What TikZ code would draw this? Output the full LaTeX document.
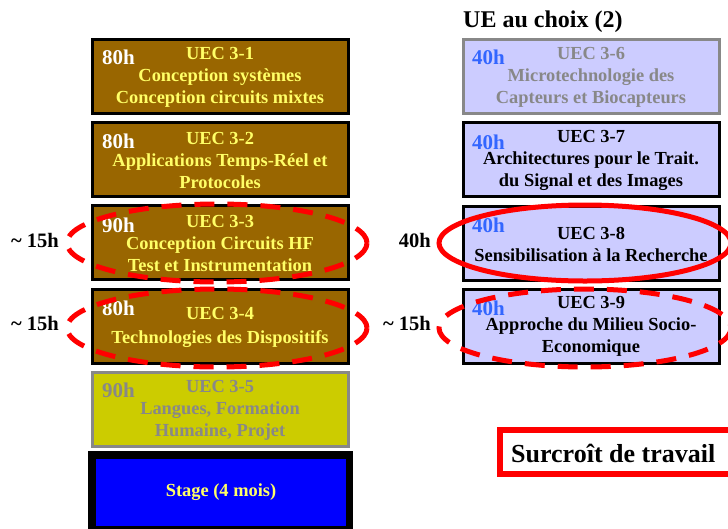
\documentclass[tikz,border=0pt]{standalone}
\usepackage{fontspec}
\setmainfont{Liberation Serif}
\definecolor{brownbox}{HTML}{996600}
\definecolor{ytext}{HTML}{FFFF66}
\definecolor{olivebox}{HTML}{CCCC00}
\definecolor{graytext}{HTML}{888888}
\definecolor{lavbox}{HTML}{CCCCFF}
\definecolor{bluetext}{HTML}{3366FF}
\definecolor{stageblue}{HTML}{0000FF}
\definecolor{redline}{HTML}{FF0000}
\begin{document}
\begin{tikzpicture}[x=1pt,y=-1pt,
  ubox/.style={rectangle,line width=3pt,minimum width=256pt,minimum height=74pt,inner sep=0pt},
  brownue/.style={ubox,draw=black,fill=brownbox},
  lavue/.style={ubox,draw=black,fill=lavbox},
  body/.style={align=center,inner sep=0pt,font=\bfseries\fontsize{18.4}{22}\selectfont},
  hrs/.style={anchor=west,inner sep=0pt,font=\bfseries\fontsize{21}{24}\selectfont},
  side/.style={inner sep=0pt,font=\bfseries\fontsize{20.5}{24}\selectfont},
  dashell/.style={draw=redline,line width=5pt,dash pattern=on 20pt off 13pt},
  solell/.style={draw=redline,line width=5pt}]
\useasboundingbox (0,0) rectangle (728,528);
\clip (0,0) rectangle (728,528);
\fill[white] (0,0) rectangle (728,528);

% left column boxes
\node[brownue] (b1) at (220.5,76.5) {};
\node[brownue] (b2) at (220.5,159.5) {};
\node[brownue] (b3) at (220.5,242.5) {};
\node[brownue] (b4) at (220.5,326.5) {};
\node[ubox,draw=graytext,fill=olivebox] (b5) at (220.5,409.5) {};
\fill[black] (88,451) rectangle (353,530);
\node[rectangle,fill=stageblue,minimum width=250pt,minimum height=67pt,inner sep=0pt] (st) at (221,492.5) {};

% right column boxes
\node[ubox,draw=graytext,fill=lavbox] (b6) at (591.5,76.5) {};
\node[lavue] (b7) at (591.5,159.5) {};
\node[lavue] (b8) at (591.5,243) {};
\node[lavue] (b9) at (591.5,326.5) {};

% texts left
\node[body,text=ytext] (t1) at (220,77.5) {UEC 3-1\\Conception systèmes\\Conception circuits mixtes};
\node[hrs,text=white] (h1) at (102,57) {80h};
\node[body,text=ytext] (t2) at (220,160.5) {UEC 3-2\\Applications Temps-Réel et\\Protocoles};
\node[hrs,text=white] (h2) at (102,141) {80h};
\node[body,text=ytext] (t3) at (220,244) {UEC 3-3\\Conception Circuits HF\\Test et Instrumentation};
\node[hrs,text=white] (h3) at (102,225) {90h};
\node[body,text=ytext] (t4) at (220,327) {UEC 3-4\\[2pt]Technologies des Dispositifs};
\node[hrs,text=white] (h4) at (102,308) {80h};
\node[body,text=graytext] (t5) at (220,410) {UEC 3-5\\Langues, Formation\\Humaine, Projet};
\node[hrs,text=graytext] (h5) at (102,390) {90h};
\node[body,text=ytext] (t6) at (st.center) {Stage (4 mois)};

% texts right
\node[anchor=south west,inner sep=0pt,font=\bfseries\fontsize{24}{28}\selectfont] (ue) at (463,33) {UE au choix (2)};
\node[body,text=graytext] (t7) at (591,77.5) {UEC 3-6\\Microtechnologie des\\Capteurs et Biocapteurs};
\node[hrs,text=bluetext] (h6) at (472,57) {40h};
\node[body] (t8) at (591,160.5) {UEC 3-7\\Architectures pour le Trait.\\du Signal et des Images};
\node[hrs,text=bluetext] (h7) at (472,142) {40h};
\node[body] (t9) at (591,244) {UEC 3-8\\Sensibilisation à la Recherche};
\node[hrs,text=bluetext] (h8) at (472,225) {40h};
\node[body] (t10) at (591,326) {UEC 3-9\\Approche du Milieu Socio-\\Economique};
\node[hrs,text=bluetext] (h9) at (472,308) {40h};

% ellipses
\draw[dashell] (217,243) ellipse [x radius=150, y radius=39];
\draw[dashell] (217,328) ellipse [x radius=150, y radius=39];
\draw[solell] (585,243) ellipse [x radius=146, y radius=38];
\draw[dashell] (585,328) ellipse [x radius=146, y radius=39];

% side labels
\node[side,anchor=west] (l1) at (11,240) {\textasciitilde\ 15h};
\node[side,anchor=west] (l2) at (11,323) {\textasciitilde\ 15h};
\node[side,anchor=east] (l3) at (431,240) {40h};
\node[side,anchor=east] (l4) at (431,323) {\textasciitilde\ 15h};

% surcroit
\node[rectangle,draw=redline,line width=6pt,minimum width=240pt,minimum height=44pt,inner sep=0pt] (sb) at (620,452) {};
\node[anchor=west,inner sep=0pt,font=\bfseries\fontsize{26}{30}\selectfont] (sur) at (511,453) {Surcroît de travail};
\end{tikzpicture}
\end{document}
